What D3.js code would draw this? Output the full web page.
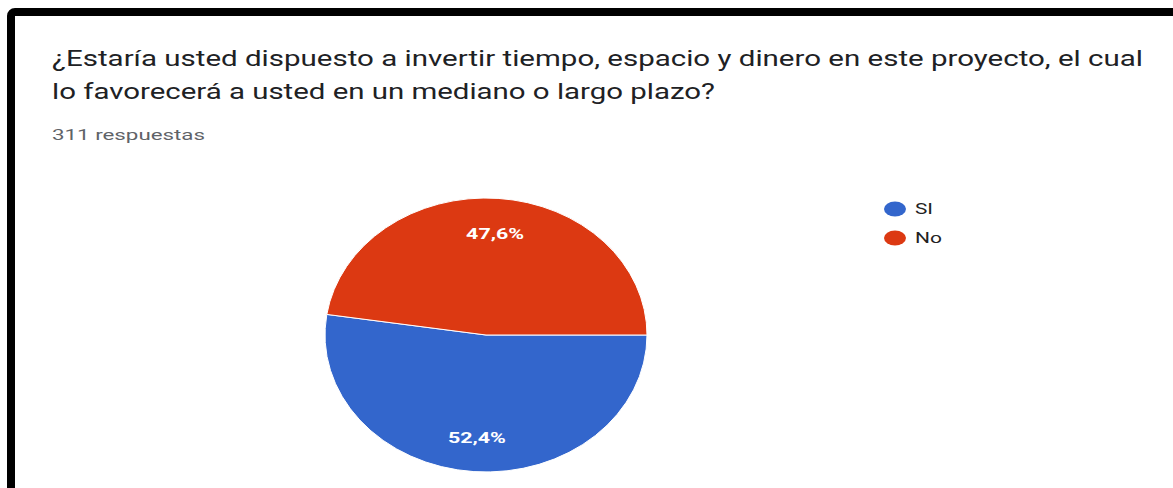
<!DOCTYPE html>
<html>
<head>
<meta charset="utf-8">
<script src="https://cdn.jsdelivr.net/npm/d3@7"></script>
<style>
  body { margin: 0; background: #fff; }
  svg { display: block; font-family: Roboto, Arial, sans-serif; }
</style>
</head>
<body>
<svg width="1173" height="488"></svg>
<script>
// data
var titleLines = [
  "¿Estaría usted dispuesto a invertir tiempo, espacio y dinero en este proyecto, el cual",
  "lo favorecerá a usted en un mediano o largo plazo?"
];
var subtitle = "311 respuestas";
var categories = ["SI", "No"];
var values = [52.4, 47.6];
var colors = ["#3366cc", "#dc3912"];

var svg = d3.select("svg"),
    width = +svg.attr("width"),
    height = +svg.attr("height");

// frame (black edge at top and left)
svg.append("rect")
    .attr("x", 11).attr("y", 12)
    .attr("width", width + 20).attr("height", height + 20)
    .attr("rx", 4)
    .attr("fill", "#fff")
    .attr("stroke", "#000")
    .attr("stroke-width", 8);

// title
var titleLen = [1091, 663];
svg.selectAll(".title")
    .data(titleLines)
  .enter().append("text")
    .attr("class", "title")
    .attr("x", 52)
    .attr("y", function(d, i) { return 66 + i * 33; })
    .attr("textLength", function(d, i) { return titleLen[i]; })
    .attr("lengthAdjust", "spacingAndGlyphs")
    .attr("font-size", 22)
    .attr("fill", "#202124")
    .text(function(d) { return d; });

svg.append("text")
    .attr("x", 52).attr("y", 140)
    .attr("textLength", 153)
    .attr("lengthAdjust", "spacingAndGlyphs")
    .attr("font-size", 14)
    .attr("fill", "#5f6368")
    .text(subtitle);

// pie
var cx = 486, cy = 335, rx = 161, ry = 137;
var locale = d3.formatLocale({decimal: ",", thousands: ".", grouping: [3], currency: ["", ""]});
var fmt = locale.format(".1f");
var total = d3.sum(values);

var pie = d3.pie().sort(null)
    .startAngle(Math.PI / 2)
    .endAngle(Math.PI / 2 + 2 * Math.PI);
var arcs = pie(values);
var arc = d3.arc().innerRadius(0).outerRadius(ry);
var labelArc = d3.arc().innerRadius(ry * 0.75).outerRadius(ry * 0.75);

var pieG = svg.append("g")
    .attr("transform", "translate(" + cx + "," + cy + ") scale(" + (rx / ry) + ",1)");

pieG.selectAll("path")
    .data(arcs)
  .enter().append("path")
    .attr("d", arc)
    .attr("fill", function(d, i) { return colors[i]; })
    .attr("stroke", "#fff")
    .attr("stroke-width", 1)
    .attr("vector-effect", "non-scaling-stroke");

svg.selectAll(".pct")
    .data(arcs)
  .enter().append("text")
    .attr("class", "pct")
    .attr("x", function(d) { return cx + labelArc.centroid(d)[0] * rx / ry; })
    .attr("y", function(d) { return cy + labelArc.centroid(d)[1] + 6; })
    .attr("text-anchor", "middle")
    .attr("textLength", 58)
    .attr("lengthAdjust", "spacingAndGlyphs")
    .attr("font-size", 15)
    .attr("font-weight", "bold")
    .attr("fill", "#fff")
    .text(function(d) { return fmt(d.value / total * 100) + "%"; });

// legend
var legend = svg.selectAll(".legend")
    .data(categories)
  .enter().append("g")
    .attr("class", "legend")
    .attr("transform", function(d, i) { return "translate(895," + (209 + i * 29) + ")"; });

legend.append("ellipse")
    .attr("rx", 11).attr("ry", 7.5)
    .attr("fill", function(d, i) { return colors[i]; });

legend.append("text")
    .attr("x", 20)
    .attr("y", 5)
    .attr("textLength", function(d) { return d === "SI" ? 18 : 27; })
    .attr("lengthAdjust", "spacingAndGlyphs")
    .attr("font-size", 14)
    .attr("fill", "#222")
    .text(function(d) { return d; });
</script>
</body>
</html>
